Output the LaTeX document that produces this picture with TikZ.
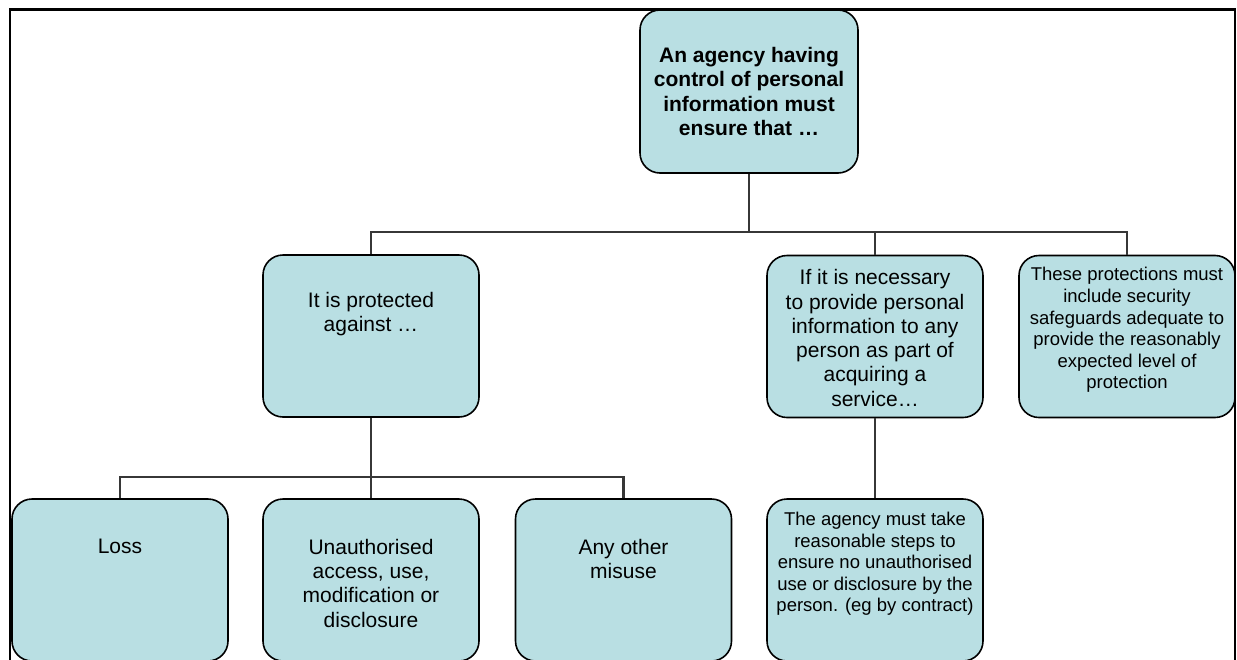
\documentclass[tikz,border=0pt]{standalone}
\usepackage{fontspec}
\setmainfont{Liberation Sans}
\definecolor{boxfill}{RGB}{185,223,227}
\definecolor{connclr}{RGB}{55,55,55}
\newcommand{\topboxtext}[2]{\parbox[c][162pt][t]{212pt}{\centering\vspace*{#1}#2\par}}
\tikzset{
  box/.style={draw=black, line width=1.6pt, fill=boxfill, rounded corners=20pt,
    inner sep=0pt, minimum width=216pt, minimum height=162pt,
    font=\fontsize{21}{24.3}\selectfont},
  smalltext/.style={font=\fontsize{18.5}{21.6}\selectfont},
  conn/.style={draw=connclr, line width=2.4pt},
  frame/.style={draw=black, line width=2.5pt}
}
\begin{document}
\begin{tikzpicture}[x=1pt,y=-1pt]
\useasboundingbox (0,0) rectangle (1237,659);
\clip (0,0) rectangle (1237,659);
\fill[white] (0,0) rectangle (1237,659);
\draw[frame] (10,665) -- (10,9.5) -- (1235,9.5) -- (1235,665);

\coordinate (bus1) at (0,232);
\coordinate (bus2) at (0,477);

\node[box, minimum width=218pt, minimum height=163pt, align=center,
  font=\fontsize{21}{24.3}\selectfont\bfseries] (top) at (749,91.5)
  {An agency having\\control of personal\\information must\\ensure that …};

\node[box] (prot) at (371,336) {\topboxtext{37pt}{It is protected\\against …}};
\node[box] (nec) at (875,336.5) {\topboxtext{14pt}{If it is necessary\\to provide personal\\information to any\\person as part of\\acquiring a\\service…}};
\node[box, smalltext] (these) at (1127,336.5) {\topboxtext{12pt}{These protections must\\include security\\safeguards adequate to\\provide the reasonably\\expected level of\\protection}};

\node[box] (loss) at (120,580) {\topboxtext{40pt}{Loss}};
\node[box] (unauth) at (371,580) {\topboxtext{40pt}{Unauthorised\\access, use,\\modification or\\disclosure}};
\node[box] (other) at (623.5,580) {\topboxtext{40pt}{Any other\\misuse}};
\node[box, smalltext] (agency) at (875,580) {\topboxtext{13pt}{The agency must take\\reasonable steps to\\ensure no unauthorised\\use or disclosure by the\\person. (eg by contract)}};

\draw[conn] (top.south) -- (top.south |- bus1);
\draw[conn] (prot.north) -- (prot.north |- bus1) -- (these.north |- bus1) -- (these.north);
\draw[conn] (nec.north) -- (nec.north |- bus1);
\draw[conn] (prot.south) -- (unauth.north);
\draw[conn] (loss.north) -- (loss.north |- bus2) -- (other.north |- bus2) -- (other.north);
\draw[conn] (nec.south) -- (agency.north);
\end{tikzpicture}
\end{document}
